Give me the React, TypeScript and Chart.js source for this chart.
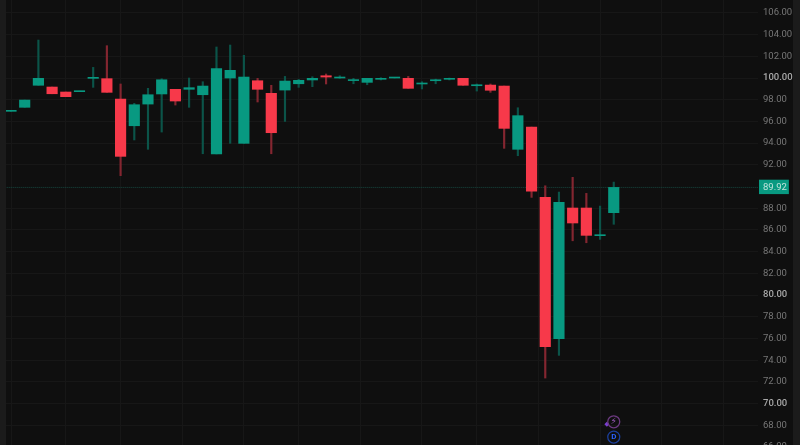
import React, { useEffect, useRef } from "react";
import { Chart, registerables } from "chart.js";

Chart.register(...registerables);

const opens = [96.93, 97.3, 99.33, 99.17, 98.71, 98.74, 99.97, 99.94, 98.06, 95.6, 97.6, 98.53, 98.96, 98.96, 98.46, 93.0, 100.0, 93.98, 99.75, 98.59, 98.89, 99.47, 99.82, 100.21, 100.0, 99.76, 99.6, 99.88, 100.0, 99.97, 99.45, 99.75, 99.88, 99.97, 99.29, 99.35, 99.26, 93.43, 95.48, 89.0, 75.97, 88.02, 88.02, 85.47, 87.59];
const closes = [96.97, 97.97, 99.97, 98.55, 98.28, 98.79, 100.02, 98.68, 92.78, 97.54, 98.46, 99.84, 97.88, 99.11, 99.26, 100.86, 100.71, 100.09, 98.96, 94.96, 99.72, 99.79, 99.97, 100.09, 100.09, 99.79, 99.97, 99.97, 100.03, 99.05, 99.54, 99.84, 99.97, 99.33, 99.35, 98.87, 95.36, 96.53, 89.58, 75.24, 88.54, 86.64, 85.5, 85.5, 89.92];
const highs = [96.97, 97.97, 103.5, 99.17, 98.71, 98.79, 100.98, 102.98, 99.45, 97.67, 99.05, 99.94, 98.96, 100.0, 99.66, 102.86, 103.04, 102.09, 99.97, 99.33, 100.15, 99.88, 100.12, 100.37, 100.21, 99.97, 99.97, 100.03, 100.06, 100.15, 99.66, 99.9, 100.0, 99.97, 99.45, 99.45, 99.26, 97.26, 95.48, 90.07, 89.49, 90.85, 89.37, 88.2, 90.41];
const lows = [96.93, 97.3, 99.33, 98.55, 98.28, 98.74, 99.14, 98.68, 91.0, 94.29, 93.43, 95.02, 97.51, 97.3, 93.02, 93.0, 93.98, 93.98, 97.79, 93.02, 96.0, 99.14, 99.2, 99.45, 99.97, 99.47, 99.38, 99.82, 100.0, 99.05, 98.99, 99.47, 99.82, 99.33, 98.8, 98.68, 93.52, 92.84, 89.0, 72.35, 74.44, 85.0, 84.82, 85.13, 86.52];

const gridIndices = [2, 6, 10, 15, 19, 23, 28, 32, 36, 41, 45, 50, 54];
const priceTicks = [66, 68, 70, 72, 74, 76, 78, 80, 82, 84, 86, 88, 89.92, 90, 92, 94, 96, 98, 100, 102, 104, 106];
const boldTicks = [100, 80, 70];
const lastPrice = 89.92;
const hiddenTicks = [90];
const eventIconX = 44;
const eventIconPrices = [68.32, 66.91];
const eventDiamond = [{ x: 43.5, y: 68.1 }];
const eventGlyphs = ["\u26A1", "D"];

const GREEN = "#089981";
const RED = "#f7394a";
const GREEN_WICK = "#0b5449";
const RED_WICK = "#842630";

const isUp = (i: number) => closes[i] >= opens[i];

const backgroundPlugin = {
  id: "panelBackground",
  beforeDraw(chart: any) {
    const { ctx, width, height, chartArea } = chart;
    ctx.save();
    ctx.fillStyle = "#1b1b1b";
    ctx.fillRect(0, 0, width, height);
    ctx.fillStyle = "#0f0f0f";
    ctx.fillRect(chartArea.left, 0, 793 - chartArea.left, height);
    ctx.restore();
  },
};

const glyphPlugin = {
  id: "eventGlyphs",
  afterDatasetsDraw(chart: any) {
    const { ctx, scales } = chart;
    ctx.save();
    ctx.textAlign = "center";
    ctx.textBaseline = "middle";
    eventIconPrices.forEach((p, i) => {
      ctx.fillStyle = i === 0 ? "#a35fc4" : "#2962ff";
      ctx.font = i === 0 ? "9px 'DejaVu Sans'" : "bold 8px Roboto";
      ctx.fillText(eventGlyphs[i], scales.x.getPixelForValue(eventIconX), scales.y.getPixelForValue(p));
    });
    ctx.restore();
  },
};

export default function App() {
  const ref = useRef<HTMLCanvasElement>(null);

  useEffect(() => {
    document.body.style.margin = "0";
    document.body.style.background = "#0f0f0f";
    const idx = opens.map((_, i) => i);
    const chart = new Chart(ref.current as HTMLCanvasElement, {
      type: "bar",
      data: {
        datasets: [
          {
            type: "line",
            label: "Last",
            data: [{ x: -1, y: lastPrice }, { x: 55, y: lastPrice }],
            borderColor: "#174a42",
            borderWidth: 1,
            borderDash: [1, 1],
            pointRadius: 0,
            order: 4,
          },
          {
            label: "Wick",
            data: idx.map((i) => ({ x: i, y: [lows[i], highs[i]] })),
            backgroundColor: idx.map((i) => (isUp(i) ? GREEN_WICK : RED_WICK)),
            barThickness: 1.5,
            grouped: false,
            order: 3,
          },
          {
            label: "Body",
            data: idx.map((i) => ({ x: i, y: [opens[i], closes[i]] })),
            backgroundColor: idx.map((i) => (isUp(i) ? GREEN : RED)),
            barThickness: 10.5,
            minBarLength: 1,
            grouped: false,
            order: 2,
          },
          {
            type: "line",
            label: "Events",
            data: eventIconPrices.map((y) => ({ x: eventIconX, y })),
            showLine: false,
            clip: false,
            pointRadius: 6,
            pointBorderWidth: 1.3,
            pointBackgroundColor: "rgba(0,0,0,0)",
            pointBorderColor: ["#6c3a80", "#1c3f9c"],
            order: 1,
          },
          {
            type: "line",
            label: "Marker",
            data: eventDiamond,
            showLine: false,
            clip: false,
            pointStyle: "rectRot",
            pointRadius: 2.5,
            pointBackgroundColor: "#7a3fd0",
            pointBorderWidth: 0,
            order: 1,
          },
        ] as any,
      },
      options: {
        animation: false,
        responsive: false,
        devicePixelRatio: 1,
        layout: { autoPadding: false, padding: { left: 6, right: 0, top: 0, bottom: 0 } },
        plugins: { legend: { display: false }, tooltip: { enabled: false } },
        scales: {
          x: {
            type: "linear",
            offset: false,
            min: -0.365,
            max: 54.53,
            border: { display: false },
            grid: { color: "#171717", lineWidth: 1, drawTicks: false },
            ticks: { display: false, autoSkip: false, maxTicksLimit: 100 },
            afterBuildTicks(scale: any) {
              scale.ticks = gridIndices.map((value) => ({ value }));
            },
            afterFit(scale: any) {
              scale.height = 0;
              scale.paddingLeft = 0;
              scale.paddingRight = 0;
            },
          },
          y: {
            position: "right",
            min: 66.18,
            max: 107.19,
            border: { display: false },
            afterFit(scale: any) {
              scale.width = 42;
              scale.paddingTop = 0;
              scale.paddingBottom = 0;
            },
            afterBuildTicks(scale: any) {
              scale.ticks = priceTicks.map((value) => ({ value }));
            },
            grid: {
              color: (c: any) =>
                c.tick && (c.tick.value === lastPrice || hiddenTicks.includes(c.tick.value))
                  ? "rgba(0,0,0,0)"
                  : "#171717",
              lineWidth: 1,
              drawTicks: false,
            },
            ticks: {
              autoSkip: false,
              maxTicksLimit: 100,
              crossAlign: "near",
              padding: 5,
              callback: (v: any) => (hiddenTicks.includes(Number(v)) ? "" : Number(v).toFixed(2)),
              color: (c: any) =>
                c.tick?.value === lastPrice
                  ? "#bfe3db"
                  : boldTicks.includes(c.tick?.value)
                  ? "#a8a8a8"
                  : "#777777",
              font: (c: any) => ({
                family: "Roboto",
                size: 9.5,
                weight: boldTicks.includes(c.tick?.value) ? "500" : "normal",
              }),
              showLabelBackdrop: (c: any) => c.tick?.value === lastPrice,
              backdropColor: GREEN,
              backdropPadding: { left: 4, right: 2, top: 2, bottom: 1 },
            } as any,
          },
        },
      } as any,
      plugins: [backgroundPlugin, glyphPlugin],
    });
    return () => chart.destroy();
  }, []);

  return (
    <div style={{ width: 800, height: 445, overflow: "hidden" }}>
      <canvas ref={ref} width={800} height={445} style={{ display: "block" }} />
    </div>
  );
}
